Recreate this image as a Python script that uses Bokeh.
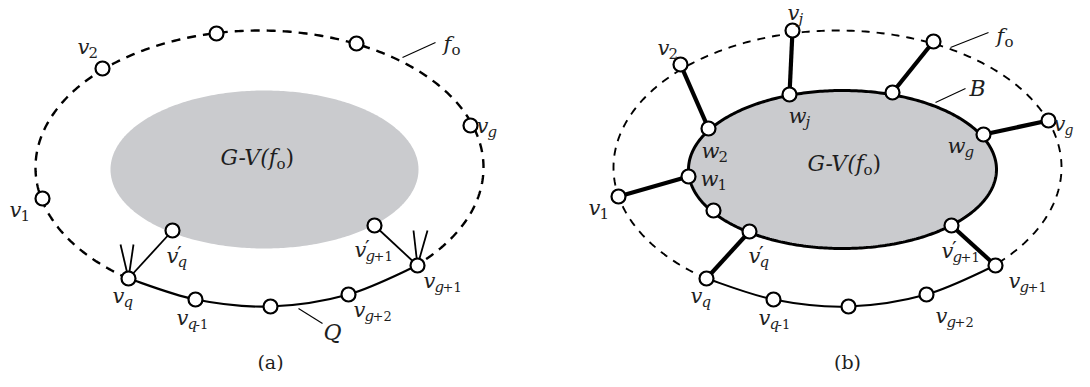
import numpy as np
from bokeh.plotting import figure
from bokeh.models import Range1d
from bokeh.embed import file_html
from bokeh.resources import INLINE
from bokeh.core.properties import value

# ---------------- data (image pixel coordinates, y downward) ----------------
# panel (a)
a_outer_ell = [259, 167, 224, 137]          # cx, cy, rx, ry of face f_o boundary
a_inner_ell = [264, 169, 154, 79]           # G - V(f_o)
a_outer_x = [216, 356, 102, 470, 42]        # top, top2, v2, vg, v1
a_outer_y = [33, 43, 68, 125, 198]
a_q_x = [128, 195, 270, 348, 417]           # vq, vq-1, mid, vg+2, vg+1
a_q_y = [278, 299, 306, 294, 265]
a_in_x = [172, 374]                         # v'q, v'g+1
a_in_y = [230, 225]
a_tip_x = [120, 133, 413, 427]
a_tip_y = [244, 244, 230, 230]
a_tip_from = [0, 0, 4, 4]                   # index into Q nodes

# panel (b)
b_outer_ell = [837, 167, 224, 137]
b_inner_ell = [842, 169, 154, 79]           # B
b_outer_x = [680, 792, 933, 1048, 618]      # v2, vj, top2, vg, v1
b_outer_y = [64, 30, 41, 120, 196]
b_w_x = [708, 789, 892, 983, 688, 713, 749, 951]   # w2, wj, wtop, wg, w1, x, v'q, v'g+1
b_w_y = [128, 94, 92, 134, 176, 210, 231, 225]
b_q_x = [706, 773, 848, 926, 995]
b_q_y = [278, 299, 306, 294, 265]
b_spoke_outer = [0, 1, 2, 3, 4]
b_spoke_inner = [0, 1, 2, 3, 4]

q_start_deg = 125.8
q_end_deg = 405.4

GRAY = "#cacbce"
FONT = "DejaVu Serif"
INK = "#1e1e1e"

p = figure(width=1074, height=371, output_backend="svg", toolbar_location=None,
           x_range=Range1d(0, 1074), y_range=Range1d(371, 0), min_border=0)
p.axis.visible = False
p.grid.visible = False
p.outline_line_color = None
p.background_fill_color = "white"


def ell_pts(e, t0, t1, n=400):
    cx, cy, rx, ry = e
    t = np.radians(np.linspace(t0, t1, n))
    return cx + rx * np.cos(t), cy + ry * np.sin(t)


def catmull(xs, ys, width):
    P = np.column_stack([xs, ys]).astype(float)
    P = np.vstack([P[0], P, P[-1]])
    for i in range(1, len(P) - 2):
        p0, p1, p2, p3 = P[i - 1], P[i], P[i + 1], P[i + 2]
        c1 = p1 + (p2 - p0) / 6.0
        c2 = p2 - (p3 - p1) / 6.0
        p.bezier(x0=[p1[0]], y0=[p1[1]], x1=[p2[0]], y1=[p2[1]],
                 cx0=[c1[0]], cy0=[c1[1]], cx1=[c2[0]], cy1=[c2[1]],
                 line_color="black", line_width=width)


def txt(x, y, s, size=21, italic=True, align="center"):
    p.text(x=[x], y=[y], text=[s], text_font=value(FONT),
           text_font_size=f"{size}px", text_font_style="italic" if italic else "normal",
           text_align=align, text_baseline="middle", text_color=INK)


def lab(x, y, main, sub="", prime=False, subsize=15):
    txt(x, y, main)
    half = 8 if main == "w" else 5
    if prime:
        txt(x + half + 2, y - 2, "\u2032", size=21, italic=False, align="center")
    if sub:
        letters = sub[0].isalpha()
        txt(x + half, y + 6, sub[0], size=subsize, italic=letters, align="left")
        if len(sub) > 1:
            off = 8 if letters else 9
            txt(x + half + off, y + 6, sub[1:], size=13, italic=False, align="left")


def gv(x0, y0):
    txt(x0, y0, "G-V(f", size=22, align="left")
    txt(x0 + 56, y0 + 6, "o", size=15, italic=False, align="left")
    txt(x0 + 65, y0, ")", size=22, italic=False, align="left")


# ---------------- panel (a) ----------------
xs, ys = ell_pts(a_inner_ell, 0, 360)
p.patch(xs, ys, fill_color=GRAY, line_color=None)
xs, ys = ell_pts(a_outer_ell, q_start_deg, q_end_deg)
p.line(xs, ys, line_color="black", line_width=2.4, line_dash="9 7")
catmull(a_q_x, a_q_y, 2.2)
for k in range(len(a_tip_x)):
    i = a_tip_from[k]
    p.line([a_q_x[i], a_tip_x[k]], [a_q_y[i], a_tip_y[k]], line_color="black", line_width=1.8)
p.line([a_q_x[0], a_in_x[0]], [a_q_y[0], a_in_y[0]], line_color="black", line_width=1.8)
p.line([a_q_x[4], a_in_x[1]], [a_q_y[4], a_in_y[1]], line_color="black", line_width=1.8)
p.line([402, 435], [57, 42], line_color="black", line_width=1.1)
p.line([298, 322], [308, 323], line_color="black", line_width=1.1)
p.scatter(a_outer_x + a_q_x + a_in_x, a_outer_y + a_q_y + a_in_y, size=14,
          fill_color="white", line_color="black", line_width=2.2)

# ---------------- panel (b) ----------------
xs, ys = ell_pts(b_outer_ell, q_start_deg, q_end_deg)
p.line(xs, ys, line_color="black", line_width=1.9, line_dash="8 7")
xs, ys = ell_pts(b_inner_ell, 0, 360)
p.patch(xs, ys, fill_color=GRAY, line_color="black", line_width=3)
catmull(b_q_x, b_q_y, 2.0)
for o, i in zip(b_spoke_outer, b_spoke_inner):
    p.line([b_outer_x[o], b_w_x[i]], [b_outer_y[o], b_w_y[i]], line_color="black", line_width=4.2)
p.line([b_q_x[0], b_w_x[6]], [b_q_y[0], b_w_y[6]], line_color="black", line_width=4.2)
p.line([b_q_x[4], b_w_x[7]], [b_q_y[4], b_w_y[7]], line_color="black", line_width=4.2)
p.line([950, 988], [47, 32], line_color="black", line_width=1.1)
p.line([935, 965], [102, 88], line_color="black", line_width=1.1)
p.scatter(b_outer_x + b_w_x + b_q_x, b_outer_y + b_w_y + b_q_y, size=14,
          fill_color="white", line_color="black", line_width=2.2)

# ---------------- labels (a) ----------------
lab(83, 46, "v", "2")
lab(482, 125, "v", "g")
lab(15, 209, "v", "1")
lab(172, 255, "v", "q", prime=True)
lab(360, 249, "v", "g+1", prime=True)
lab(118, 295, "v", "q")
lab(182, 317, "v", "q-1")
lab(359, 309, "v", "g+2")
lab(429, 280, "v", "g+1")
txt(447, 43, "f")
txt(451, 49, "o", size=15, italic=False, align="left")
txt(332, 332, "Q", size=22)
gv(220, 157)
txt(270, 361, "(a)", size=19, italic=False)

# ---------------- labels (b) ----------------
lab(793, 12, "v", "j")
lab(663, 47, "v", "2")
lab(1059, 123, "v", "g", subsize=14)
lab(594, 207, "v", "1")
lab(797, 115, "w", "j")
lab(710, 150, "w", "2")
lab(956, 145, "w", "g")
lab(709, 178, "w", "1")
lab(754, 255, "v", "q", prime=True)
lab(947, 250, "v", "g+1", prime=True)
lab(696, 295, "v", "q")
lab(764, 317, "v", "q-1")
lab(941, 315, "v", "g+2")
lab(1014, 280, "v", "g+1")
txt(1000, 35, "f")
txt(1004, 41, "o", size=15, italic=False, align="left")
txt(977, 88, "B", size=22)
gv(807, 163)
txt(847, 361, "(b)", size=19, italic=False)

open("out.html", "w").write(file_html(p, INLINE))
